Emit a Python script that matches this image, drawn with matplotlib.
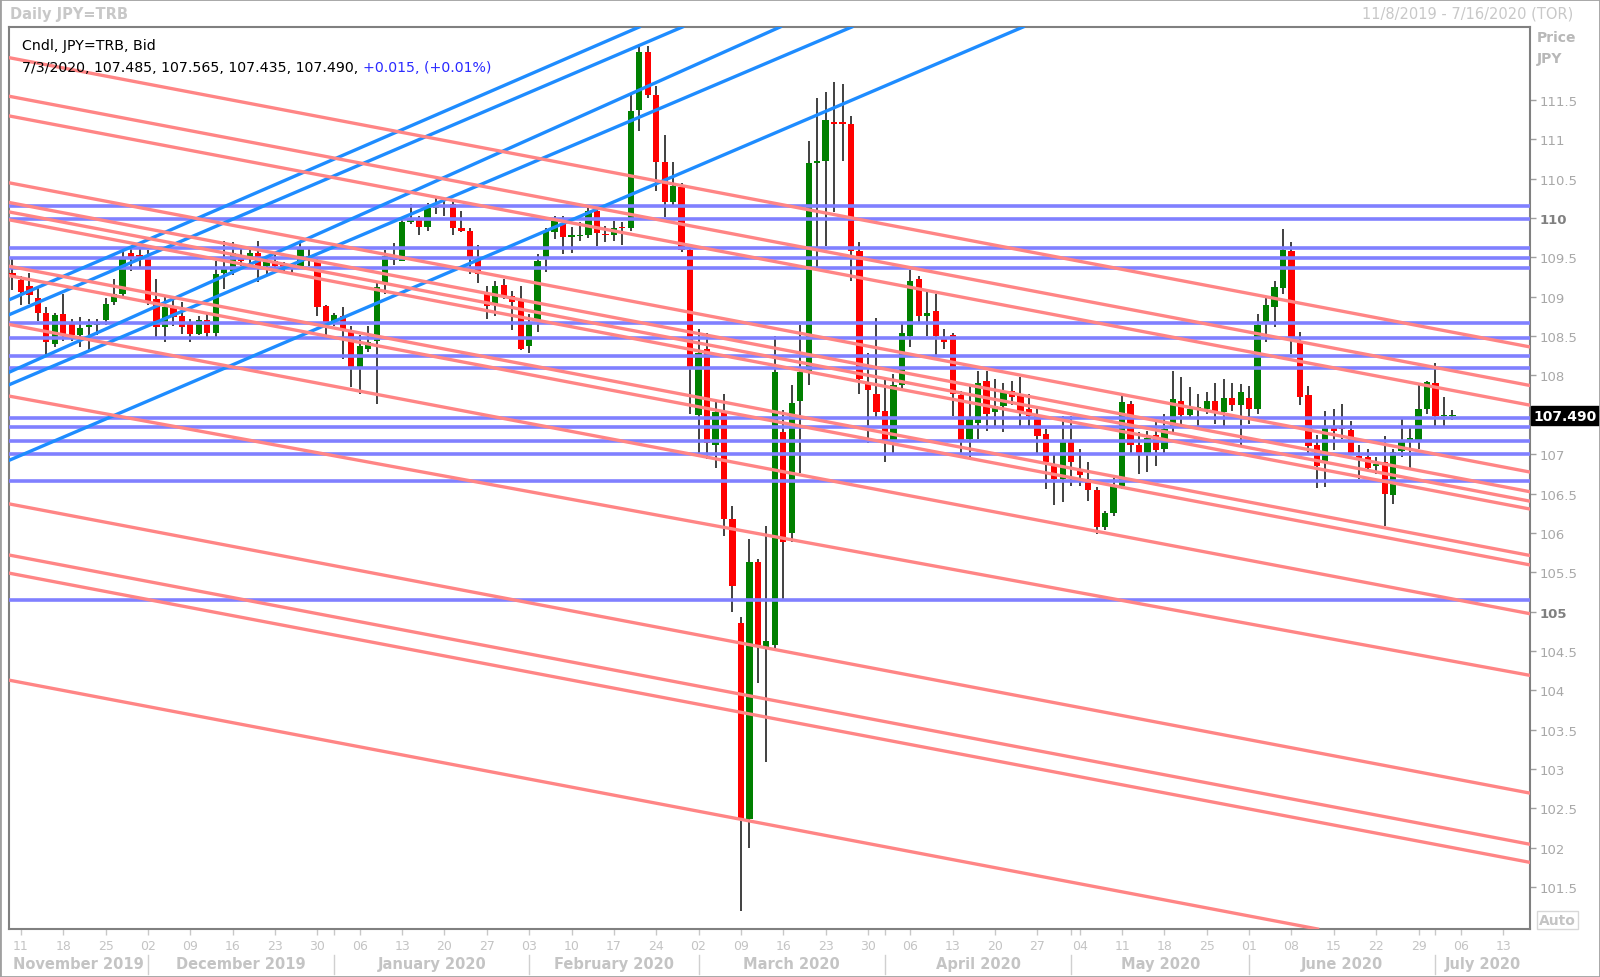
import numpy as np
import pandas as pd
import matplotlib
matplotlib.use("Agg")
import matplotlib.pyplot as plt
import matplotlib.transforms as mtransforms
from matplotlib.patches import Rectangle
from matplotlib.lines import Line2D

# candles diarios JPY=TRB, 8/nov/2019 ate 3/jul/2020 (um por dia util)
opens = [109.30, 109.21, 109.14, 108.99, 108.80, 108.40, 108.78, 108.65, 108.52, 108.61,
         108.64, 108.70, 108.93, 109.04, 109.56, 109.53, 109.48, 108.97, 108.61, 108.86,
         108.75, 108.65, 108.53, 108.70, 108.54, 109.30, 109.33, 109.49, 109.48, 109.56,
         109.39, 109.46, 109.40, 109.38, 109.39, 109.52, 109.45, 108.88, 108.68, 108.76,
         108.56, 108.09, 108.34, 108.44, 109.16, 109.52, 109.46, 109.95, 109.97, 109.89,
         110.13, 110.14, 110.18, 109.88, 109.84, 109.48, 109.04, 108.89, 109.15, 109.01,
         108.95, 108.38, 108.71, 109.51, 109.82, 109.93, 109.76, 109.77, 109.78, 110.09,
         109.80, 109.78, 109.89, 109.87, 111.37, 112.11, 111.57, 110.71, 110.21, 110.40,
         109.60, 107.50, 108.33, 107.11, 107.53, 106.17, 104.85, 102.37, 105.63, 104.55,
         104.58, 107.28, 106.00, 107.67, 108.05, 110.70, 110.73, 111.22, 111.22, 111.20,
         109.58, 107.91, 107.76, 107.55, 107.18, 107.88, 108.50, 109.22, 108.76, 108.82,
         108.46, 108.51, 107.75, 107.19, 107.40, 107.93, 107.54, 107.61, 107.80, 107.74,
         107.57, 107.49, 107.26, 106.87, 106.68, 107.15, 106.79, 106.69, 106.54, 106.08,
         106.25, 106.60, 107.64, 107.12, 107.02, 107.24, 107.06, 107.33, 107.68, 107.50,
         107.57, 107.58, 107.68, 107.53, 107.71, 107.62, 107.71, 107.57, 108.67, 108.87,
         109.11, 109.58, 108.44, 107.75, 107.11, 106.90, 107.33, 107.33, 107.31, 106.98,
         106.96, 106.85, 106.90, 106.48, 107.04, 107.18, 107.18, 107.57, 107.91, 107.48,
         107.485]
highs = [109.48, 109.26, 109.30, 109.14, 108.87, 108.80, 109.04, 108.72, 108.74, 108.72,
         108.72, 108.99, 109.23, 109.60, 109.61, 109.61, 109.59, 109.23, 109.00, 108.97,
         108.93, 108.72, 108.76, 108.81, 109.46, 109.71, 109.69, 109.65, 109.59, 109.71,
         109.50, 109.54, 109.44, 109.42, 109.69, 109.61, 109.48, 108.90, 108.80, 108.87,
         108.63, 108.51, 108.63, 109.18, 109.59, 109.68, 109.97, 110.18, 110.02, 110.19,
         110.26, 110.23, 110.24, 110.09, 109.87, 109.66, 109.14, 109.20, 109.23, 109.07,
         109.14, 108.78, 109.54, 109.88, 110.02, 110.02, 109.89, 109.95, 110.14, 110.13,
         109.90, 109.96, 109.95, 111.59, 112.21, 112.19, 111.68, 111.05, 110.71, 110.45,
         109.67, 108.59, 108.54, 107.67, 107.76, 106.34, 104.93, 105.92, 105.67, 106.09,
         108.50, 107.56, 107.88, 108.64, 110.98, 111.53, 111.60, 111.73, 111.70, 111.30,
         109.69, 108.29, 108.73, 107.95, 108.02, 108.68, 109.34, 109.27, 109.06, 109.04,
         108.59, 108.54, 107.80, 107.87, 108.06, 108.06, 107.95, 107.91, 107.93, 107.98,
         107.76, 107.59, 107.32, 107.00, 107.49, 107.49, 107.07, 106.90, 106.58, 106.28,
         106.70, 107.74, 107.68, 107.28, 107.30, 107.43, 107.51, 108.06, 107.98, 107.85,
         107.76, 107.79, 107.91, 107.96, 107.90, 107.89, 107.86, 108.78, 108.99, 109.20,
         109.86, 109.70, 108.55, 107.87, 107.24, 107.55, 107.57, 107.64, 107.42, 107.12,
         107.06, 106.96, 107.23, 107.07, 107.45, 107.34, 107.89, 107.93, 108.16, 107.72,
         107.565]
lows = [109.08, 108.89, 108.91, 108.69, 108.26, 108.36, 108.44, 108.44, 108.36, 108.30,
        108.51, 108.64, 108.89, 109.00, 109.33, 109.35, 108.89, 108.49, 108.43, 108.63,
        108.53, 108.42, 108.51, 108.49, 108.49, 109.10, 109.28, 109.39, 109.39, 109.19,
        109.26, 109.31, 109.31, 109.29, 109.35, 109.39, 108.76, 108.51, 108.63, 108.21,
        107.85, 107.77, 108.30, 107.64, 109.04, 109.40, 109.45, 109.93, 109.78, 109.83,
        110.05, 110.03, 109.78, 109.82, 109.29, 109.17, 108.72, 108.76, 108.97, 108.58,
        108.32, 108.29, 108.55, 109.31, 109.73, 109.54, 109.56, 109.71, 109.75, 109.65,
        109.69, 109.71, 109.66, 109.83, 111.11, 111.53, 110.35, 110.01, 110.14, 109.57,
        107.51, 107.02, 106.94, 106.83, 105.96, 104.99, 101.19, 101.99, 104.09, 103.09,
        104.53, 105.16, 105.88, 106.76, 107.88, 109.34, 109.65, 110.08, 110.73, 109.20,
        107.76, 107.14, 107.46, 106.90, 107.01, 107.81, 108.36, 108.68, 108.50, 108.26,
        108.33, 107.49, 107.00, 106.96, 107.19, 107.30, 107.36, 107.28, 107.62, 107.36,
        107.36, 107.02, 106.56, 106.35, 106.39, 106.60, 106.60, 106.41, 105.99, 106.03,
        106.22, 106.56, 107.02, 106.75, 106.77, 106.85, 107.02, 107.28, 107.37, 107.45,
        107.36, 107.51, 107.38, 107.36, 107.55, 107.09, 107.38, 107.51, 108.42, 108.61,
        109.04, 108.27, 107.62, 107.02, 106.57, 106.58, 107.05, 107.19, 107.00, 106.69,
        106.79, 106.75, 106.09, 106.37, 106.97, 106.83, 107.07, 107.51, 107.36, 107.36,
        107.435]
closes = [109.25, 109.06, 109.02, 108.80, 108.42, 108.77, 108.51, 108.52, 108.60, 108.64,
          108.65, 108.91, 109.03, 109.51, 109.51, 109.50, 108.95, 108.61, 108.87, 108.74,
          108.61, 108.53, 108.70, 108.54, 109.29, 109.35, 109.56, 109.46, 109.56, 109.39,
          109.44, 109.39, 109.38, 109.39, 109.61, 109.48, 108.87, 108.68, 108.77, 108.59,
          108.09, 108.37, 108.43, 109.12, 109.52, 109.47, 109.95, 109.97, 109.89, 110.13,
          110.14, 110.16, 109.88, 109.84, 109.50, 109.29, 108.88, 109.14, 109.01, 108.93,
          108.34, 108.65, 109.46, 109.84, 109.96, 109.76, 109.78, 109.79, 110.09, 109.81,
          109.78, 109.88, 109.87, 111.36, 112.11, 111.57, 110.71, 110.21, 110.41, 109.60,
          108.10, 108.29, 107.14, 107.53, 106.17, 105.33, 102.37, 105.63, 104.58, 104.62,
          108.05, 105.89, 107.65, 108.05, 110.70, 110.73, 111.24, 111.20, 111.20, 109.58,
          107.95, 107.81, 107.53, 107.18, 107.88, 108.54, 109.20, 108.75, 108.80, 108.50,
          108.43, 107.76, 107.18, 107.45, 107.91, 107.51, 107.61, 107.79, 107.72, 107.55,
          107.49, 107.23, 106.90, 106.68, 107.15, 106.90, 106.73, 106.54, 106.07, 106.25,
          106.60, 107.66, 107.12, 107.02, 107.21, 107.05, 107.32, 107.70, 107.50, 107.58,
          107.60, 107.68, 107.53, 107.71, 107.62, 107.79, 107.57, 108.64, 108.89, 109.12,
          109.59, 108.48, 107.72, 107.10, 106.85, 107.33, 107.30, 107.32, 107.02, 106.95,
          106.83, 106.88, 106.49, 107.03, 107.18, 107.21, 107.57, 107.92, 107.48, 107.49,
          107.490]

dias = pd.bdate_range("2019-11-08", "2020-07-16")

ticks_preco = [101.5, 102, 102.5, 103, 103.5, 104, 104.5, 105, 105.5, 106, 106.5,
               107, 107.5, 108, 108.5, 109, 109.5, 110, 110.5, 111, 111.5]
rotulos_preco = ["101.5", "102", "102.5", "103", "103.5", "104", "104.5", "105", "105.5",
                 "106", "106.5", "107", "107.5", "108", "108.5", "109", "109.5", "110",
                 "110.5", "111", "111.5"]
ultimo = 107.490

# linhas desenhadas no grafico
horizontais = [110.15, 109.99, 109.62, 109.49, 109.37, 108.67, 108.47, 108.25, 108.09,
               107.46, 107.35, 107.17, 107.00, 106.66, 105.15]
azul_p0 = [108.98, 108.79, 108.06, 107.90, 106.94]      # preco no dia 0
azul_p100 = [113.64, 113.39, 112.88, 112.47, 111.54]    # preco no dia 100
rosa_p0 = [112.03, 111.54, 111.29, 110.44, 110.19, 110.07, 109.97, 109.38, 109.26,
           108.64, 107.73, 106.36, 105.71, 105.48, 104.12]
rosa_p170 = [108.55, 108.06, 107.81, 106.96, 106.71, 106.59, 106.49, 105.90, 105.78,
             105.16, 104.37, 102.88, 102.23, 102.00, 100.64]

W, H = 1600, 978
fig = plt.figure(figsize=(W / 100, H / 100), dpi=100)
ax = fig.add_axes([9 / W, 1 - 930 / H, (1530 - 9) / W, (930 - 28) / H])

x = np.arange(len(opens))
o = np.array(opens)
c = np.array(closes)
cores = np.where(c >= o, "#008000", "#ff0000")
base = np.minimum(o, c)
altura = np.maximum(np.abs(c - o), 0.015)

ax.vlines(x, lows, highs, color="#202020", lw=1.2, zorder=2)
ax.bar(x, altura, bottom=base, width=0.74, color=cores, linewidth=0, zorder=3)

for p in horizontais:
    ax.axhline(p, color="#8080ff", lw=2.6, zorder=4)
for a, b in zip(azul_p0, azul_p100):
    ax.axline((0, a), (100, b), color="#1e8cff", lw=2.4, zorder=4)
for a, b in zip(rosa_p0, rosa_p170):
    ax.axline((0, a), (170, b), color="#ff8585", lw=2.4, zorder=4)

ax.set_xlim(-0.41, 179.16)
ax.set_ylim(100.966, 112.428)

for s in ax.spines.values():
    s.set_color("#808080")
    s.set_linewidth(1.5)

# eixo de preco a direita
ax.yaxis.tick_right()
ax.set_yticks(ticks_preco)
ax.set_yticklabels(rotulos_preco)
ax.tick_params(axis="y", direction="out", length=4, width=1, color="#a0a0a0",
               labelcolor="#a8a8a8", labelsize=9.5, pad=3)
for t in ax.get_yticklabels():
    if t.get_text() in ("110", "105"):
        t.set_fontweight("bold")
        t.set_color("#808080")
    if t.get_text() == "107.5":
        # fica escondido atras da caixa do ultimo preco
        t.set_visible(False)

# eixo de datas: segundas e inicio de mes
segundas = [i for i, d in enumerate(dias) if d.weekday() == 0]
inicio_mes = [i for i in range(len(dias)) if i == 0 or dias[i].month != dias[i - 1].month]
ax.set_xticks(segundas)
ax.set_xticklabels(["%02d" % dias[i].day for i in segundas])
ax.set_xticks([i for i in inicio_mes[1:]], minor=True)
ax.tick_params(axis="x", which="both", direction="out", length=4, width=1,
               color="#c8c8c8", labelcolor="#c4c4c4", labelsize=9, pad=3)

mix = mtransforms.blended_transform_factory(ax.transData, fig.transFigure)
limites = inicio_mes[1:] + [179.16]
ini = [-0.41] + inicio_mes[1:]
for k in range(len(ini)):
    d = dias[int(max(ini[k], 0))]
    fig.text((ini[k] + limites[k]) / 2, 1 - 965 / H, d.strftime("%B %Y"), transform=mix,
             ha="center", va="center", fontsize=10.5, fontweight="bold", color="#c4c4c4")
for i in inicio_mes[1:]:
    fig.add_artist(Line2D([i, i], [1 - 956 / H, 1 - 975 / H], transform=mix,
                          color="#d0d0d0", lw=1))

# caixa do ultimo preco
mix_y = mtransforms.blended_transform_factory(ax.transAxes, ax.transData)
ax.text(1.0025, ultimo, "%.3f" % ultimo, transform=mix_y, ha="left", va="center",
        color="white", fontsize=10, fontweight="bold", zorder=10, clip_on=False,
        bbox=dict(boxstyle="square,pad=0.18", fc="black", ec="black"))

# textos
fig.text(10 / W, 1 - 14 / H, "Daily JPY=TRB", ha="left", va="center", fontsize=10.5,
         fontweight="bold", color="#c8c8c8")
fig.text(1573 / W, 1 - 14 / H, "11/8/2019 - 7/16/2020 (TOR)", ha="right", va="center",
         fontsize=10.5, color="#c8c8c8")
fig.text(1537 / W, 1 - 38 / H, "Price", ha="left", va="center", fontsize=10,
         fontweight="bold", color="#b8b8b8")
fig.text(1537 / W, 1 - 59 / H, "JPY", ha="left", va="center", fontsize=10,
         fontweight="bold", color="#b8b8b8")
fig.text(1539 / W, 1 - 921 / H, "Auto", ha="left", va="center", fontsize=10,
         fontweight="bold", color="#c4c4c4",
         bbox=dict(boxstyle="square,pad=0.15", fc="white", ec="#d8d8d8"))

fig.text(22 / W, 1 - 46 / H, "Cndl, JPY=TRB, Bid", ha="left", va="center",
         fontsize=10.2, color="black", zorder=11)
t1 = fig.text(22 / W, 1 - 68 / H, "7/3/2020, 107.485, 107.565, 107.435, 107.490, ",
              ha="left", va="center", fontsize=10.2, color="black", zorder=11)
ax.annotate("+0.015, (+0.01%)", xy=(1, 0.5), xycoords=t1, ha="left", va="center",
            fontsize=10.2, color="#2b2bff", annotation_clip=False, zorder=11)

fig.add_artist(Rectangle((0, 0), 1, 1, transform=fig.transFigure, fill=False,
                         ec="#a0a0a0", lw=2))

fig.savefig("out.png", dpi=100)
